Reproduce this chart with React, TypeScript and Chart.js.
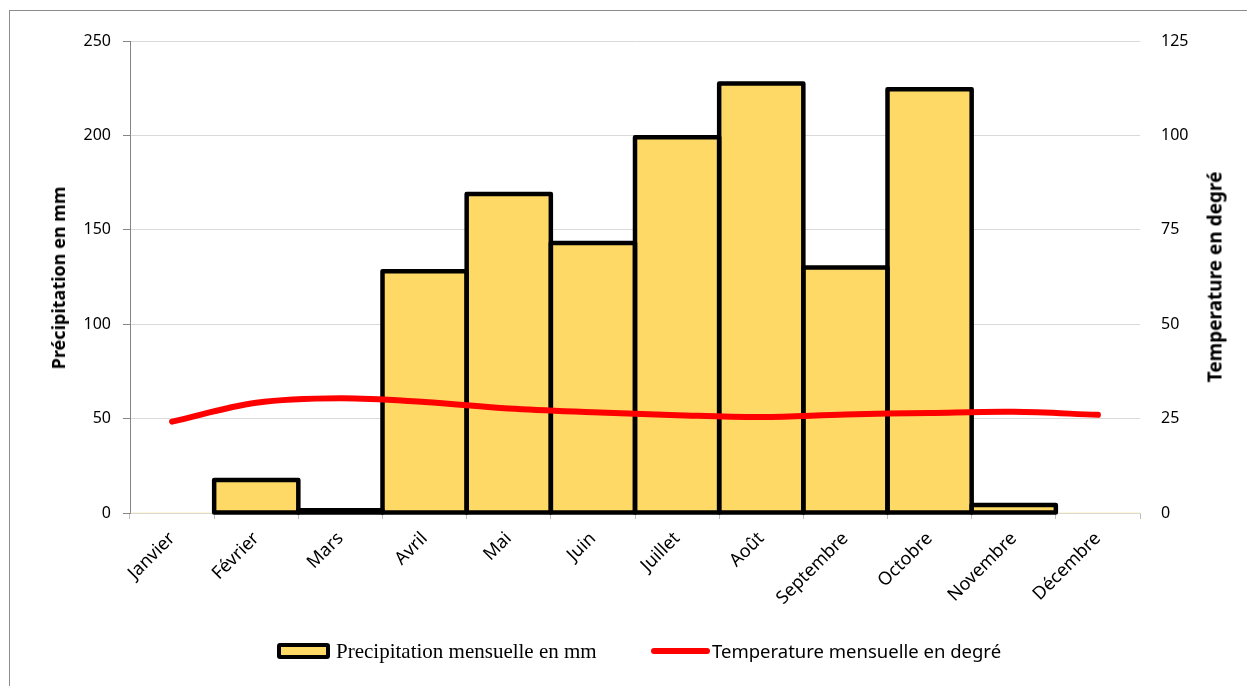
import React, { useEffect, useRef } from "react";
import { Chart, registerables } from "chart.js";

Chart.register(...registerables);

const months = [
  "Janvier", "Février", "Mars", "Avril", "Mai", "Juin",
  "Juillet", "Août", "Septembre", "Octobre", "Novembre", "Décembre",
];
const precipitation = [0, 17.5, 1.5, 128, 169, 143, 199, 227.5, 130, 224.5, 4.2, 0];
const temperature = [24.2, 29.2, 30.4, 29.4, 27.7, 26.7, 25.9, 25.4, 26.1, 26.5, 26.8, 26.0];
const precipLabel = "Precipitation mensuelle en mm";
const tempLabel = "Temperature mensuelle en degré";
const leftTitle = "Précipitation en mm";
const rightTitle = "Temperature en degré";

const W = 1247;
const H = 686;
const FONT = "'Noto Sans', 'DejaVu Sans', sans-serif";

// Strokes each bar outline centred on its edges (as the reference does)
const barOutline = {
  id: "barOutline",
  afterDatasetDraw(chart: any, args: any) {
    const ds = chart.data.datasets[args.index];
    if (ds.type !== "bar") return;
    const ctx = chart.ctx;
    ctx.save();
    ctx.strokeStyle = "#000";
    ctx.lineWidth = 4.5;
    ctx.lineJoin = "round";
    args.meta.data.forEach((el: any, i: number) => {
      const v = ds.data[i];
      if (!v) return;
      const { x, y, base, width } = el.getProps(["x", "y", "base", "width"], true);
      ctx.strokeRect(x - width / 2, y, width, base - y);
    });
    ctx.restore();
  },
};

export default function App() {
  const ref = useRef<HTMLCanvasElement | null>(null);

  useEffect(() => {
    if (!ref.current) return;
    const chart = new Chart(ref.current, {
      type: "bar",
      data: {
        labels: months,
        datasets: [
          {
            type: "line",
            label: tempLabel,
            data: temperature,
            yAxisID: "y1",
            borderColor: "#ff0000",
            borderWidth: 6,
            borderCapStyle: "round",
            borderJoinStyle: "round",
            pointRadius: 0,
            tension: 0.35,
            order: 0,
          } as any,
          {
            type: "bar",
            label: precipLabel,
            data: precipitation,
            yAxisID: "y",
            backgroundColor: "#fed966",
            borderWidth: 0,
            categoryPercentage: 1,
            barPercentage: 1,
            order: 1,
          } as any,
        ],
      },
      plugins: [barOutline],
      options: {
        responsive: false,
        animation: false,
        devicePixelRatio: 1,
        layout: { padding: { top: 41, bottom: 73, left: 0, right: 0 } },
        plugins: {
          legend: { display: false },
          tooltip: { enabled: false },
        },
        scales: {
          x: {
            type: "category",
            offset: true,
            grid: {
              offset: true,
              drawOnChartArea: false,
              tickLength: 6,
              color: "#bfbfbf",
            },
            border: { color: "#d9d9d9", width: 1 },
            ticks: {
              maxRotation: 45,
              minRotation: 45,
              color: "#000",
              font: { family: FONT, size: 18 },
              padding: 9,
            },
            afterFit: (s: any) => {
              s.height = 100;
            },
          },
          y: {
            type: "linear",
            position: "left",
            min: 0,
            max: 250,
            ticks: {
              stepSize: 50,
              color: "#000",
              font: { family: FONT, size: 16 },
              padding: 12,
            },
            grid: { color: "#d9d9d9", tickColor: "#868686", tickLength: 7 },
            border: { color: "#868686" },
            afterFit: (s: any) => {
              s.width = 130;
            },
          },
          y1: {
            type: "linear",
            position: "right",
            min: 0,
            max: 125,
            ticks: {
              stepSize: 25,
              color: "#000",
              font: { family: FONT, size: 16 },
              padding: 21,
            },
            grid: { drawOnChartArea: false, drawTicks: false },
            border: { display: false },
            afterFit: (s: any) => {
              s.width = 107;
            },
          },
        },
      },
    });
    return () => chart.destroy();
  }, []);

  const titleStyle = (cx: number, cy: number, size: number): React.CSSProperties => ({
    position: "absolute",
    left: cx,
    top: cy,
    transform: "translate(-50%, -50%) rotate(-90deg)",
    whiteSpace: "nowrap",
    fontFamily: FONT,
    fontWeight: 700,
    fontSize: size,
    color: "#000",
    lineHeight: 1,
  });

  return (
    <div style={{ position: "absolute", left: 0, top: 0, width: W, height: H, overflow: "hidden" }}>
      <div
        style={{
          position: "absolute",
          left: 9,
          top: 10,
          width: W - 9,
          height: H - 10,
          borderTop: "1px solid #8c8c8c",
          borderLeft: "1px solid #8c8c8c",
          boxSizing: "border-box",
        }}
      />
      <canvas ref={ref} width={W} height={H} style={{ position: "absolute", left: 0, top: 0, width: W, height: H }} />
      <div style={titleStyle(58, 278, 18)}>{leftTitle}</div>
      <div style={titleStyle(1215, 277, 19)}>{rightTitle}</div>
      <div style={{ position: "absolute", left: 277, top: 643, width: 53, height: 16, boxSizing: "border-box", border: "4px solid #000", borderRadius: 3, background: "#fed966" }} />
      <div style={{ position: "absolute", left: 336, top: 637, fontFamily: "'Liberation Serif', 'Times New Roman', serif", fontSize: 21, lineHeight: "28px", color: "#000", whiteSpace: "nowrap" }}>{precipLabel}</div>
      <div style={{ position: "absolute", left: 651, top: 648, width: 59, height: 6, borderRadius: 3, background: "#ff0000" }} />
      <div style={{ position: "absolute", left: 712, top: 637, fontFamily: FONT, fontSize: 18.5, lineHeight: "28px", color: "#000", whiteSpace: "nowrap" }}>{tempLabel}</div>
    </div>
  );
}
